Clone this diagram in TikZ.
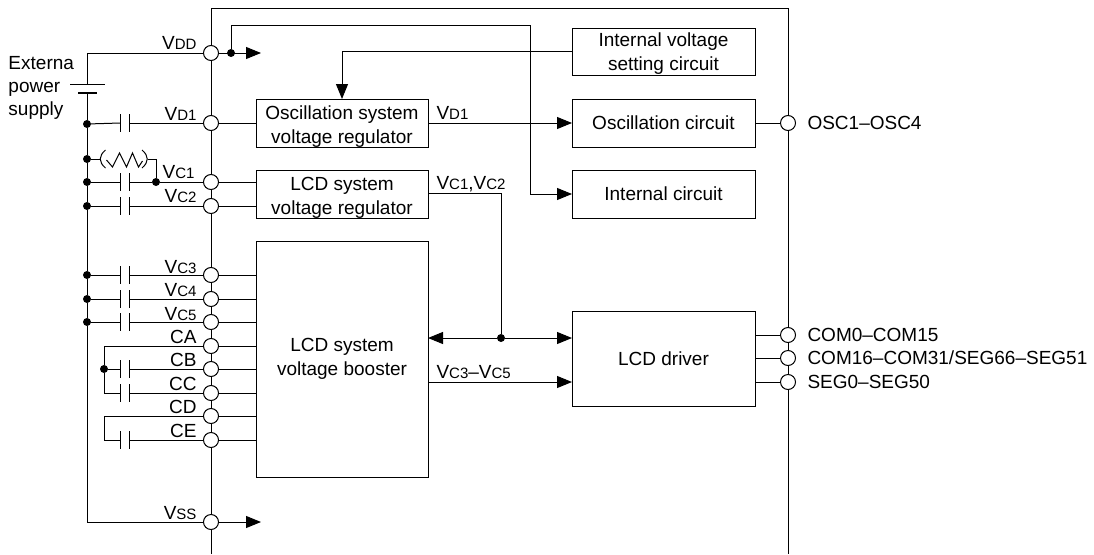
\documentclass[tikz,border=0pt]{standalone}
\usepackage{fontspec}
\setmainfont{Liberation Sans}
\usepackage{xcolor}
\usetikzlibrary{arrows.meta,positioning,calc}
\newcommand{\vsub}[1]{V{\fontsize{15}{15}\selectfont #1}}

\begin{document}
\begin{tikzpicture}[
            x=1pt,y=-1pt,
            line width=1pt,
            font=\fontsize{19}{24}\selectfont,
            block/.style={draw,fill=white,inner sep=0pt,outer sep=0pt,align=center},
            blockname/.style={inner sep=0pt,align=center},
            pin/.style={draw,fill=white,circle,minimum size=15pt,inner sep=0pt,outer sep=0pt},
            junction/.style={fill=black,circle,minimum size=8pt,inner sep=0pt,outer sep=0pt},
            plabel/.style={anchor=base east,inner sep=0pt},
            rlabel/.style={anchor=base west,inner sep=0pt},
            arrow/.style={-{Triangle[length=15pt,width=12pt]}},
            pics/capa/.style={code={
                \draw (-4.5,-9) -- (-4.5,9);
                \draw (4.5,-9) -- (4.5,9);
                \coordinate (-l) at (-4.5,0);
                \coordinate (-r) at (4.5,0);
            }},
            pics/batt/.style={code={
                \draw (-17,0) -- (18,0);
                \draw[line width=2pt] (-9,9) -- (10,9);
                \coordinate (-t) at (0,0);
                \coordinate (-b) at (0,9);
            }},
            pics/resis/.style={code={
                \draw (-18,-9) .. controls (-25,-3) and (-25,3) .. (-18,9);
                \draw (18.5,-9) .. controls (25.5,-3) and (25.5,3) .. (18.5,9);
                \draw (-17,1) -- (-11,8) -- (-4,-6) -- (3,8) -- (9,-6) -- (15,8) -- (19,2);
                \coordinate (-l) at (-23,0);
                \coordinate (-r) at (24,0);
            }}
        ]
            \useasboundingbox (0,0) rectangle (1094,554);

            \coordinate (cbl) at (211,554);
            \coordinate (ctl) at (211,8);
            \coordinate (ctr) at (788,8);
            \coordinate (cbr) at (788,554);
            \draw (cbl) -- (ctl) -- (ctr) -- (cbr);

            \node[block, minimum width=172pt, minimum height=48pt] (regosc) at (342,123) {};
            \node[block, minimum width=183pt, minimum height=48pt, right=144pt of regosc] (osc) {Oscillation circuit};
            \node[block, minimum width=183pt, minimum height=47pt, above=24pt of osc] (intv) {};
            \node[block, minimum width=172pt, minimum height=48pt, below=23pt of regosc] (reglcd) {};
            \node[block, minimum width=183pt, minimum height=48pt, right=144pt of reglcd] (intc) {Internal circuit};
            \node[block, minimum width=172pt, minimum height=236pt, below=23pt of reglcd] (boost) {LCD system\\voltage booster};
            \node[block, minimum width=183pt, minimum height=95pt, right=144pt of boost] (driver) {LCD driver};
            \node[blockname] (regoscname) at ($(regosc)+(0,4)$) {Oscillation system\\voltage regulator};
            \node[blockname] (intvname) at ($(intv)+(0,2)$) {Internal voltage\\setting circuit};
            \node[blockname] (reglcdname) at ($(reglcd)+(0,4)$) {LCD system\\voltage regulator};

            \node[pin] (pvdd) at (211,53) {};
            \node[pin] (pvd1) at (211,123) {};
            \node[pin] (pvc1) at (211,182) {};
            \node[pin] (pvc2) at (211,206) {};
            \node[pin] (pvc3) at (211,275) {};
            \node[pin] (pvc4) at (211,299) {};
            \node[pin] (pvc5) at (211,322) {};
            \node[pin] (pca) at (211,346) {};
            \node[pin] (pcb) at (211,369) {};
            \node[pin] (pcc) at (211,393) {};
            \node[pin] (pcd) at (211,416) {};
            \node[pin] (pce) at (211,440) {};
            \node[pin] (pvss) at (211,522) {};
            \node[pin] (posc) at (788,123) {};
            \node[pin] (pcom) at (788,335) {};
            \node[pin] (pcoms) at (788,358) {};
            \node[pin] (pseg) at (788,382) {};

            \node[plabel] (lvdd) at (197,49) {\vsub{DD}};
            \node[plabel] (lvd1) at (197,120) {\vsub{D1}};
            \node[plabel] (lvc1) at (195,178) {\vsub{C1}};
            \node[plabel] (lvc2) at (197,202) {\vsub{C2}};
            \node[plabel] (lvc3) at (197,273) {\vsub{C3}};
            \node[plabel] (lvc4) at (197,296) {\vsub{C4}};
            \node[plabel] (lvc5) at (197,320) {\vsub{C5}};
            \node[plabel] (lca) at (197,343) {CA};
            \node[plabel] (lcb) at (197,366) {CB};
            \node[plabel] (lcc) at (197,390) {CC};
            \node[plabel] (lcd) at (197,413) {CD};
            \node[plabel] (lce) at (197,437) {CE};
            \node[plabel] (lvss) at (197,519) {\vsub{SS}};
            \node[rlabel] (losc) at (807,129) {OSC1--OSC4};
            \node[rlabel] (lcom) at (807,341) {COM0--COM15};
            \node[rlabel] (lcoms) at (807,364) {COM16--COM31/SEG66--SEG51};
            \node[rlabel] (lseg) at (807,388) {SEG0--SEG50};
            \node[rlabel] (lrvd1) at (436,119) {\vsub{D1}};
            \node[rlabel] (lrvc) at (436,189) {\vsub{C1},\vsub{C2}};
            \node[rlabel] (lrvb) at (436,378) {\vsub{C3}--\vsub{C5}};
            \node[anchor=base west, inner sep=0pt, align=left, font=\fontsize{19}{23}\selectfont] (ext) at (8,115) {Externa\\power\\supply};

            \node[junction] (dvdd) at (231,53) {};
            \node[junction] (dbd1) at (87,124) {};
            \node[junction] (dbres) at (87,159) {};
            \node[junction] (dbc1) at (87,182) {};
            \node[junction] (dbc2) at (87,206) {};
            \node[junction] (dbc3) at (87,275) {};
            \node[junction] (dbc4) at (87,299) {};
            \node[junction] (dbc5) at (87,322) {};
            \node[junction] (dvc1) at (156,182) {};
            \node[junction] (dcb) at (104,369) {};
            \node[junction] (dbus) at (501,338) {};

            \pic (batt) at (87,84) {batt};
            \pic (cvd1) at (125,123) {capa};
            \pic (cvc1) at (125,182) {capa};
            \pic (cvc2) at (125,206) {capa};
            \pic (cvc3) at (125,275) {capa};
            \pic (cvc4) at (125,299) {capa};
            \pic (cvc5) at (125,322) {capa};
            \pic (ccb) at (125,369) {capa};
            \pic (ccc) at (125,393) {capa};
            \pic (cce) at (125,440) {capa};
            \pic (rvc1) at (123.5,159) {resis};

            \coordinate (vddend) at (261,53);
            \coordinate (vssend) at (261,522);
            \coordinate (vddtop) at (87,53);
            \coordinate (vsscor) at (87,522);
            \coordinate (inttop) at (530,25);
            \coordinate (vcturn) at (501,193);
            \coordinate (vbout) at (428,382);
            \coordinate (caleft) at (104,346);
            \coordinate (ccleft) at (104,393);
            \coordinate (cdleft) at (104,416);
            \coordinate (celeft) at (104,440);

            \draw (pvdd) -- (vddtop) -- (batt-t);
            \draw (batt-b) -- (dbd1) -- (dbres) -- (dbc1) -- (dbc2) -- (dbc3) -- (dbc4) -- (dbc5) -- (vsscor) -- (pvss);
            \draw[arrow] (pvdd) -- (vddend);
            \draw[arrow] (pvss) -- (vssend);
            \draw[arrow] (dvdd) |- (inttop) |- (intc.west);
            \draw[arrow] (intv.west) -| (regosc.north);

            \draw (dbd1) -- (cvd1-l);
            \draw (cvd1-r) -- (pvd1);
            \draw (pvd1) -- (regosc.west |- pvd1);
            \draw (dbres) -- (rvc1-l);
            \draw (rvc1-r) -| (dvc1);
            \draw (dbc1) -- (cvc1-l);
            \draw (cvc1-r) -- (dvc1) -- (pvc1);
            \draw (pvc1) -- (reglcd.west |- pvc1);
            \draw (dbc2) -- (cvc2-l);
            \draw (cvc2-r) -- (pvc2);
            \draw (pvc2) -- (reglcd.west |- pvc2);
            \draw (dbc3) -- (cvc3-l);
            \draw (cvc3-r) -- (pvc3);
            \draw (pvc3) -- (boost.west |- pvc3);
            \draw (dbc4) -- (cvc4-l);
            \draw (cvc4-r) -- (pvc4);
            \draw (pvc4) -- (boost.west |- pvc4);
            \draw (dbc5) -- (cvc5-l);
            \draw (cvc5-r) -- (pvc5);
            \draw (pvc5) -- (boost.west |- pvc5);
            \draw (pca) -- (caleft) -- (dcb) -- (ccleft) -- (ccc-l);
            \draw (pca) -- (boost.west |- pca);
            \draw (dcb) -- (ccb-l);
            \draw (ccb-r) -- (pcb);
            \draw (pcb) -- (boost.west |- pcb);
            \draw (ccc-r) -- (pcc);
            \draw (pcc) -- (boost.west |- pcc);
            \draw (pcd) -- (cdleft) -- (celeft) -- (cce-l);
            \draw (pcd) -- (boost.west |- pcd);
            \draw (cce-r) -- (pce);
            \draw (pce) -- (boost.west |- pce);

            \draw[arrow] (regosc.east |- pvd1) -- (osc.west);
            \draw (osc.east) -- (posc);
            \draw (reglcd.east |- vcturn) -- (vcturn) -- (dbus);
            \draw[arrow] (dbus) -- (boost.east |- dbus);
            \draw[arrow] (dbus) -- (driver.west |- dbus);
            \draw[arrow] (vbout) -- (driver.west |- vbout);
            \draw (driver.east |- pcom) -- (pcom);
            \draw (driver.east |- pcoms) -- (pcoms);
            \draw (driver.east |- pseg) -- (pseg);
        \end{tikzpicture}
\end{document}
